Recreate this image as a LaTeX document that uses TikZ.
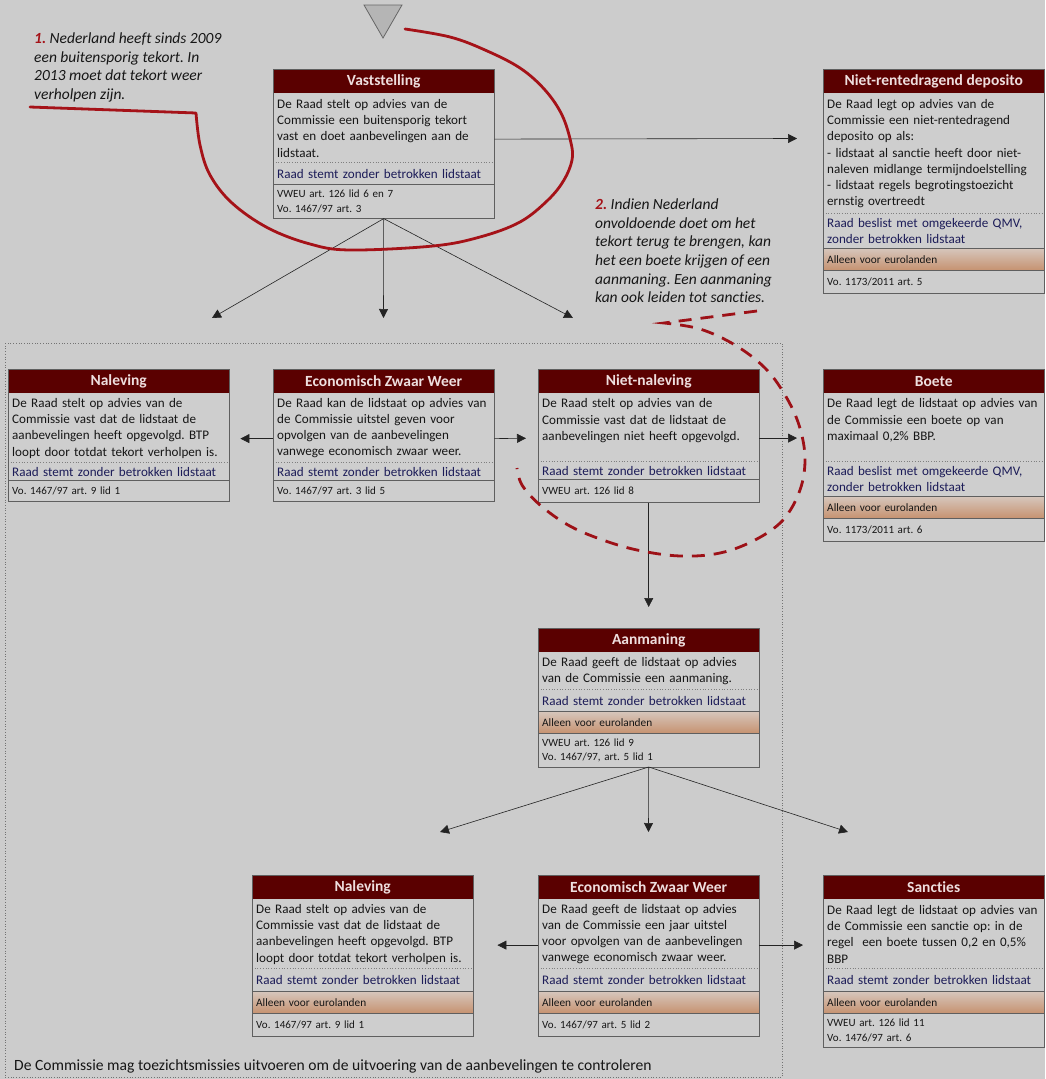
\documentclass[tikz,border=0pt]{standalone}
\usepackage{fontspec}
\setmainfont{Carlito}[Ligatures=NoCommon]
\frenchspacing
\usetikzlibrary{positioning, arrows.meta}
\definecolor{achtergrond}{RGB}{204,204,204}
\definecolor{vakkleur}{RGB}{206,206,206}
\definecolor{kopkleur}{RGB}{90,0,0}
\definecolor{kopletter}{RGB}{238,222,222}
\definecolor{stemkleur}{RGB}{28,28,88}
\definecolor{eurotop}{RGB}{214,198,188}
\definecolor{eurobodem}{RGB}{198,146,112}
\definecolor{randkleur}{RGB}{95,95,95}
\definecolor{pijlkleur}{RGB}{35,35,35}
\definecolor{letter}{RGB}{22,22,22}
\definecolor{rood}{RGB}{165,18,24}
\tikzset{
    kop/.style={ % titelbalk van een blok
        fill=kopkleur, text=kopletter, anchor=north west,
        minimum width=221pt, minimum height=24pt, inner sep=0pt,
        font=\fontsize{15.5}{17}\selectfont\bfseries
    },
    tekst/.style={
        fill=vakkleur, text=letter, align=left, text width=213pt,
        inner xsep=4pt, inner ysep=1pt,
        font=\fontsize{13.1}{16.3}\selectfont
    },
    stem/.style={tekst, text=stemkleur},
    euro/.style={tekst, top color=eurotop, bottom color=eurobodem,
        minimum height=22pt, font=\fontsize{11.3}{13}\selectfont},
    wet/.style={tekst, font=\fontsize{11}{14.5}\selectfont},
    rand/.style={draw=randkleur, line width=0.8pt},
    stippel/.style={draw=randkleur!80, dotted, line width=0.7pt},
    kader/.style={draw=gray!90!black, dotted, line width=0.7pt},
    pijl/.style={draw=pijlkleur, line width=0.6pt, -{Triangle[length=9pt,width=9pt]}},
    every edge/.style={draw, pijl},
    notitie/.style={anchor=north west, align=left, inner sep=0pt, text=letter,
        font=\fontsize{15.5}{18.7}\selectfont\itshape},
    lijn/.style={draw=rood, line width=2.8pt, line cap=round, line join=round},
    streep/.style={draw=rood!95!black, line width=2.8pt, dash pattern=on 13pt off 9pt}
}
\begin{document}
\begin{tikzpicture}[x=1pt, y=-1pt]
    \fill[achtergrond] (0,0) rectangle (1045,1079);
    \useasboundingbox (0,0) rectangle (1045,1079);
    \draw[kader] (5,343) rectangle (782,1077);
    \draw[fill=gray!30!achtergrond, draw=gray!80!black, line width=0.8pt] (364,5) -- (402,5) -- (383,38) -- cycle;

    % Vaststelling
    \node[kop] (vast) at (273,69) {Vaststelling};
    \node[tekst, minimum height=69pt, below=0pt of vast] (vastT) {De Raad stelt op advies van de\\ Commissie een buitensporig tekort\\ vast en doet aanbevelingen aan de\\ lidstaat.};
    \node[stem, minimum height=21pt, below=0pt of vastT] (vastS) {Raad stemt zonder betrokken lidstaat};
    \node[wet, minimum height=34pt, below=0pt of vastS] (vastW) {VWEU art. 126 lid 6 en 7\\ Vo. 1467/97 art. 3};
    \draw[stippel] (vastT.south west) -- (vastT.south east);
    \draw[rand] (vastS.south west) -- (vastS.south east);
    \draw[rand] (vast.north west) rectangle (vastW.south east);

    % Niet-rentedragend deposito
    \node[kop] (depo) at (823,69) {Niet-rentedragend deposito};
    \node[tekst, minimum height=120pt, below=0pt of depo] (depoT) {De Raad legt op advies van de\\ Commissie een niet-rentedragend\\ deposito op als:\\ - lidstaat al sanctie heeft door niet-\\ naleven midlange termijndoelstelling\\ - lidstaat regels begrotingstoezicht\\ ernstig overtreedt};
    \node[stem, minimum height=34pt, below=0pt of depoT] (depoS) {Raad beslist met omgekeerde QMV,\\ zonder betrokken lidstaat};
    \node[euro, below=0pt of depoS] (depoE) {Alleen voor eurolanden};
    \node[wet, minimum height=22pt, below=0pt of depoE] (depoW) {Vo. 1173/2011 art. 5};
    \draw[stippel] (depoT.south west) -- (depoT.south east);
    \draw[rand] (depoS.south west) -- (depoS.south east);
    \draw[rand] (depoE.south west) -- (depoE.south east);
    \draw[rand] (depo.north west) rectangle (depoW.south east);

    % Naleving (boven)
    \node[kop] (nal1) at (8,369) {Naleving};
    \node[tekst, minimum height=69pt, below=0pt of nal1] (nal1T) {De Raad stelt op advies van de\\ Commissie vast dat de lidstaat de\\ aanbevelingen heeft opgevolgd. BTP\\ loopt door totdat tekort verholpen is.};
    \node[stem, minimum height=17pt, below=0pt of nal1T] (nal1S) {Raad stemt zonder betrokken lidstaat};
    \node[wet, minimum height=21pt, below=0pt of nal1S] (nal1W) {Vo. 1467/97 art. 9 lid 1};
    \draw[stippel] (nal1T.south west) -- (nal1T.south east);
    \draw[rand] (nal1S.south west) -- (nal1S.south east);
    \draw[rand] (nal1.north west) rectangle (nal1W.south east);

    % Economisch Zwaar Weer (boven)
    \node[kop] (eco1) at (273,369) {Economisch Zwaar Weer};
    \node[tekst, minimum height=69pt, below=0pt of eco1] (eco1T) {De Raad kan de lidstaat op advies van\\ de Commissie uitstel geven voor\\ opvolgen van de aanbevelingen\\ vanwege economisch zwaar weer.};
    \node[stem, minimum height=17pt, below=0pt of eco1T] (eco1S) {Raad stemt zonder betrokken lidstaat};
    \node[wet, minimum height=21pt, below=0pt of eco1S] (eco1W) {Vo. 1467/97 art. 3 lid 5};
    \draw[stippel] (eco1T.south west) -- (eco1T.south east);
    \draw[rand] (eco1S.south west) -- (eco1S.south east);
    \draw[rand] (eco1.north west) rectangle (eco1W.south east);

    % Niet-naleving
    \node[kop] (niet) at (538,369) {Niet-naleving};
    \node[tekst, minimum height=68pt, below=0pt of niet] (nietT) {De Raad stelt op advies van de\\ Commissie vast dat de lidstaat de\\ aanbevelingen niet heeft opgevolgd.\\ \mbox{}};
    \node[stem, minimum height=17pt, below=0pt of nietT] (nietS) {Raad stemt zonder betrokken lidstaat};
    \node[wet, minimum height=23pt, below=0pt of nietS] (nietW) {VWEU art. 126 lid 8};
    \draw[stippel] (nietT.south west) -- (nietT.south east);
    \draw[rand] (nietS.south west) -- (nietS.south east);
    \draw[rand] (niet.north west) rectangle (nietW.south east);

    % Boete
    \node[kop] (boet) at (823,369) {Boete};
    \node[tekst, minimum height=68pt, below=0pt of boet] (boetT) {De Raad legt de lidstaat op advies van\\ de Commissie een boete op van\\ maximaal 0,2\% BBP.\\ \mbox{}};
    \node[stem, minimum height=34pt, below=0pt of boetT] (boetS) {Raad beslist met omgekeerde QMV,\\ zonder betrokken lidstaat};
    \node[euro, below=0pt of boetS] (boetE) {Alleen voor eurolanden};
    \node[wet, minimum height=22pt, below=0pt of boetE] (boetW) {Vo. 1173/2011 art. 6};
    \draw[stippel] (boetT.south west) -- (boetT.south east);
    \draw[rand] (boetS.south west) -- (boetS.south east);
    \draw[rand] (boetE.south west) -- (boetE.south east);
    \draw[rand] (boet.north west) rectangle (boetW.south east);

    % Aanmaning
    \node[kop] (aanm) at (538,628) {Aanmaning};
    \node[tekst, minimum height=37pt, below=0pt of aanm] (aanmT) {De Raad geeft de lidstaat op advies\\ van de Commissie een aanmaning.};
    \node[stem, minimum height=21pt, below=0pt of aanmT] (aanmS) {Raad stemt zonder betrokken lidstaat};
    \node[euro, below=0pt of aanmS] (aanmE) {Alleen voor eurolanden};
    \node[wet, minimum height=33pt, below=0pt of aanmE] (aanmW) {VWEU art. 126 lid 9\\ Vo. 1467/97, art. 5 lid 1};
    \draw[stippel] (aanmT.south west) -- (aanmT.south east);
    \draw[rand] (aanmS.south west) -- (aanmS.south east);
    \draw[rand] (aanmE.south west) -- (aanmE.south east);
    \draw[rand] (aanm.north west) rectangle (aanmW.south east);

    % Naleving (onder)
    \node[kop] (nal2) at (252,875) {Naleving};
    \node[tekst, minimum height=69pt, below=0pt of nal2] (nal2T) {De Raad stelt op advies van de\\ Commissie vast dat de lidstaat de\\ aanbevelingen heeft opgevolgd. BTP\\ loopt door totdat tekort verholpen is.};
    \node[stem, minimum height=22pt, below=0pt of nal2T] (nal2S) {Raad stemt zonder betrokken lidstaat};
    \node[euro, below=0pt of nal2S] (nal2E) {Alleen voor eurolanden};
    \node[wet, minimum height=22pt, below=0pt of nal2E] (nal2W) {Vo. 1467/97 art. 9 lid 1};
    \draw[stippel] (nal2T.south west) -- (nal2T.south east);
    \draw[rand] (nal2S.south west) -- (nal2S.south east);
    \draw[rand] (nal2E.south west) -- (nal2E.south east);
    \draw[rand] (nal2.north west) rectangle (nal2W.south east);

    % Economisch Zwaar Weer (onder)
    \node[kop] (eco2) at (538,875) {Economisch Zwaar Weer};
    \node[tekst, minimum height=69pt, below=0pt of eco2] (eco2T) {De Raad geeft de lidstaat op advies\\ van de Commissie een jaar uitstel\\ voor opvolgen van de aanbevelingen\\ vanwege economisch zwaar weer.};
    \node[stem, minimum height=22pt, below=0pt of eco2T] (eco2S) {Raad stemt zonder betrokken lidstaat};
    \node[euro, below=0pt of eco2S] (eco2E) {Alleen voor eurolanden};
    \node[wet, minimum height=22pt, below=0pt of eco2E] (eco2W) {Vo. 1467/97 art. 5 lid 2};
    \draw[stippel] (eco2T.south west) -- (eco2T.south east);
    \draw[rand] (eco2S.south west) -- (eco2S.south east);
    \draw[rand] (eco2E.south west) -- (eco2E.south east);
    \draw[rand] (eco2.north west) rectangle (eco2W.south east);

    % Sancties
    \node[kop] (sanc) at (823,875) {Sancties};
    \node[tekst, minimum height=69pt, below=0pt of sanc] (sancT) {De Raad legt de lidstaat op advies van\\ de Commissie een sanctie op: in de\\ regel\ \ een boete tussen 0,2 en 0,5\%\\ BBP};
    \node[stem, minimum height=22pt, below=0pt of sancT] (sancS) {Raad stemt zonder betrokken lidstaat};
    \node[euro, below=0pt of sancS] (sancE) {Alleen voor eurolanden};
    \node[wet, minimum height=33pt, below=0pt of sancE] (sancW) {VWEU art. 126 lid 11\\ Vo. 1476/97 art. 6};
    \draw[stippel] (sancT.south west) -- (sancT.south east);
    \draw[rand] (sancS.south west) -- (sancS.south east);
    \draw[rand] (sancE.south west) -- (sancE.south east);
    \draw[rand] (sanc.north west) rectangle (sancW.south east);

    % pijlen
    \coordinate (vastL) at (212,318);
    \coordinate (vastM) at (383.5,318);
    \coordinate (vastR) at (573,318);
    \coordinate (depoP) at (797,138.5);
    \coordinate (aanmL) at (440,832);
    \coordinate (aanmM) at (648.5,832);
    \coordinate (aanmR) at (848,832);
    \draw (vastW.south) edge (vastL) edge (vastM) edge (vastR);
    \draw[pijl] ([yshift=-11pt]vastT.east) -- (depoP);
    \draw[pijl, shorten >=11pt] ([yshift=-10.5pt]eco1T.west) -- ([yshift=-10.5pt]nal1T.east);
    \draw[pijl, shorten >=12pt] ([yshift=-10.5pt]eco1T.east) -- ([yshift=-10.5pt]nietT.west);
    \draw[pijl, shorten >=26pt] ([yshift=-10.5pt]nietT.east) -- ([yshift=-10.5pt]boetT.west);
    \draw[pijl, shorten >=21pt] (nietW.south) -- (aanm.north);
    \draw (aanmW.south) edge (aanmL) edge (aanmM) edge (aanmR);
    \draw[pijl, shorten >=24pt] ([yshift=-11pt]eco2T.west) -- ([yshift=-11pt]nal2T.east);
    \draw[pijl, shorten >=20pt] ([yshift=-11pt]eco2T.east) -- ([yshift=-11pt]sancT.west);

    % toelichting
    \node[notitie] (noot1) at (34,32.5) {\textcolor{rood}{\bfseries 1.} Nederland heeft sinds 2009\\ een buitensporig tekort. In\\ 2013 moet dat tekort weer\\ verholpen zijn.};
    \node[notitie] (noot2) at (595,198.5) {\textcolor{rood}{\bfseries 2.} Indien Nederland\\ onvoldoende doet om het\\ tekort terug te brengen, kan\\ het een boete krijgen of een\\ aanmaning. Een aanmaning\\ kan ook leiden tot sancties.};
    \node[anchor=west, inner sep=0pt, text=letter, font=\fontsize{15.6}{17}\selectfont] (toezicht) at (14,1066) {De Commissie mag toezichtsmissies uitvoeren om de uitvoering van de aanbevelingen te controleren};

    \draw[lijn] (30,107) -- (196,113) -- plot[smooth, tension=0.6] coordinates {(196,113) (200,145) (210,175) (232,203) (268,228) (310,244) (350,250) (433,246) (480,237) (520,222) (548,200) (564,180) (572,160) (571,143) (562,115) (545,90) (520,68) (485,50) (450,37) (405,29)};
    \draw[streep] (757,311) -- (664,323) -- plot[smooth, tension=0.6] coordinates {(664,323) (700,329) (735,345) (765,368) (785,395) (799,425) (805,458) (800,490) (783,520) (755,540) (720,553) (680,556) (637,550) (600,539) (568,525) (540,505) (522,485) (517,468)};
\end{tikzpicture}
\end{document}
